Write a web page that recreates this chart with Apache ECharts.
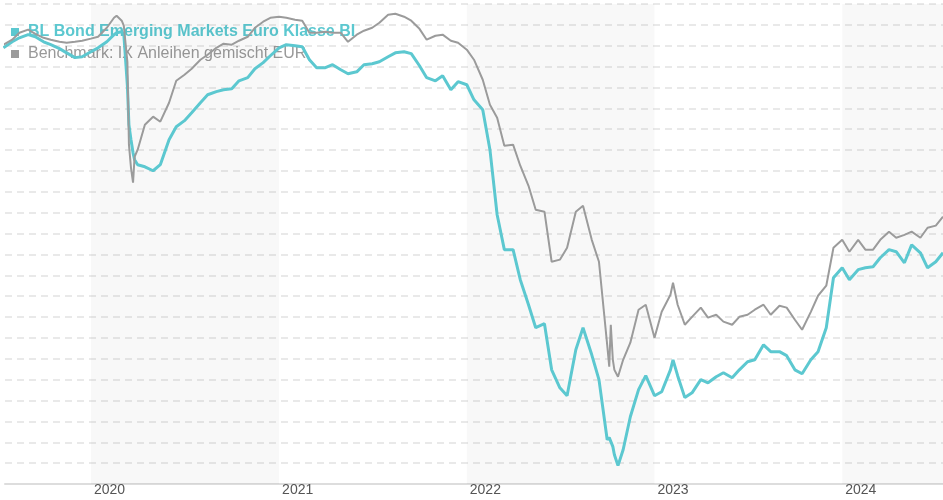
<!DOCTYPE html>
<html>
<head>
<meta charset="utf-8">
<title>BL Bond Emerging Markets Euro</title>
<script src="https://cdn.jsdelivr.net/npm/echarts@6/dist/echarts.min.js"></script>
<style>
html, body { margin: 0; padding: 0; background: #fff; }
#chart { width: 943px; height: 500px; }
</style>
</head>
<body>
<div id="chart"></div>
<script>
// Wertentwicklung in %
var fundName = 'BL Bond Emerging Markets Euro Klasse BI'
var benchName = 'Benchmark: IX Anleihen gemischt EUR'

var dates = [
  '2019-07-15', '2019-08-01', '2019-08-15', '2019-09-01', '2019-09-15', '2019-10-01', '2019-10-15',
  '2019-11-01', '2019-11-15', '2019-12-01', '2019-12-15',
  '2020-01-01', '2020-01-15', '2020-02-01', '2020-02-15', '2020-02-20', '2020-03-01', '2020-03-05',
  '2020-03-12', '2020-03-15', '2020-03-19', '2020-03-23', '2020-03-26', '2020-04-01', '2020-04-15',
  '2020-05-01', '2020-05-15', '2020-06-01', '2020-06-15', '2020-07-01', '2020-07-15', '2020-08-01',
  '2020-08-15', '2020-09-01', '2020-09-15', '2020-10-01', '2020-10-15', '2020-11-01', '2020-11-15',
  '2020-12-01', '2020-12-15',
  '2021-01-01', '2021-01-15', '2021-02-01', '2021-02-15', '2021-03-01', '2021-03-15', '2021-04-01',
  '2021-04-15', '2021-05-01', '2021-05-15', '2021-06-01', '2021-06-15', '2021-07-01', '2021-07-15',
  '2021-08-01', '2021-08-15', '2021-09-01', '2021-09-15', '2021-10-01', '2021-10-15', '2021-11-01',
  '2021-11-15', '2021-12-01', '2021-12-15',
  '2022-01-01', '2022-01-15', '2022-02-01', '2022-02-15', '2022-03-01', '2022-03-15', '2022-04-01',
  '2022-04-15', '2022-05-01', '2022-05-15', '2022-06-01', '2022-06-15', '2022-07-01', '2022-07-15',
  '2022-08-01', '2022-08-15', '2022-09-01', '2022-09-15', '2022-10-01', '2022-10-05', '2022-10-08',
  '2022-10-12', '2022-10-15', '2022-10-22', '2022-11-01', '2022-11-15', '2022-12-01', '2022-12-15',
  '2023-01-01', '2023-01-15', '2023-02-01', '2023-02-06', '2023-02-15', '2023-03-01', '2023-03-15',
  '2023-04-01', '2023-04-15', '2023-05-01', '2023-05-15', '2023-06-01', '2023-06-15', '2023-07-01',
  '2023-07-15', '2023-08-01', '2023-08-15', '2023-09-01', '2023-09-15', '2023-10-01', '2023-10-15',
  '2023-11-01', '2023-11-15', '2023-12-01', '2023-12-15',
  '2024-01-01', '2024-01-15', '2024-02-01', '2024-02-15', '2024-03-01', '2024-03-15', '2024-04-01',
  '2024-04-15', '2024-05-01', '2024-05-15', '2024-06-01', '2024-06-15', '2024-07-01', '2024-07-15'
]

var fund = [
  -0.10, 0.19, 0.38, 0.53, 0.43, 0.19, 0.05,
  -0.14, -0.34, -0.57, -0.53,
  -0.29, -0.10, 0.19, 0.53, 0.62, 0.67, 0.57,
  -1.92, -3.79, -4.50, -5.13, -5.46, -5.70, -5.80,
  -5.99, -5.70, -4.50, -3.88, -3.59, -3.21, -2.73,
  -2.35, -2.20, -2.11, -2.06, -1.68, -1.53, -1.10,
  -0.81, -0.48,
  -0.10, 0.05, 0.00, -0.05, -0.67, -1.05, -1.05,
  -0.91, -1.15, -1.34, -1.25, -0.91, -0.86, -0.77,
  -0.53, -0.34, -0.29, -0.38, -0.96, -1.53, -1.68,
  -1.44, -2.11, -1.72,
  -1.87, -2.59, -3.07, -4.98, -8.10, -9.77, -9.77,
  -11.21, -12.41, -13.51, -13.32, -15.53, -16.39, -16.77,
  -14.57, -13.51, -14.81, -16.00, -18.88, -18.78, -18.78,
  -19.21, -19.60, -20.12, -19.36, -17.78, -16.48, -15.81,
  -16.77, -16.58, -15.53, -15.05, -15.81, -16.86, -16.63,
  -16.00, -16.15, -15.86, -15.67, -15.91, -15.53, -15.14,
  -15.05, -14.33, -14.66, -14.66, -14.85, -15.53, -15.72,
  -15.05, -14.66, -13.51, -11.12,
  -10.64, -11.21, -10.73, -10.64, -10.59, -10.16, -9.77,
  -9.87, -10.40, -9.54, -9.92, -10.64, -10.35, -9.92
]

var bench = [
  0.05, 0.29, 0.62, 0.77, 0.57, 0.38, 0.29,
  0.19, 0.14, 0.19, 0.24,
  0.34, 0.43, 0.86, 1.34, 1.44, 1.20, 0.96,
  -0.77, -4.74, -5.85, -6.56, -5.32, -4.98, -3.79,
  -3.40, -3.64, -2.73, -1.68, -1.39, -1.10, -0.67,
  -0.43, -0.10, 0.10, 0.05, 0.24, 0.43, 0.86,
  1.15, 1.34,
  1.39, 1.34, 1.25, 1.20, 0.62, 0.62, 0.67,
  0.62, 0.62, 0.19, 0.53, 0.72, 0.86, 1.10,
  1.49, 1.53, 1.39, 1.20, 0.81, 0.29, 0.48,
  0.53, 0.24, 0.14,
  -0.19, -0.67, -1.63, -2.83, -3.45, -4.79, -4.74,
  -5.75, -6.71, -7.86, -7.95, -10.35, -10.25, -9.68,
  -7.95, -7.67, -9.30, -10.35, -14.33, -15.38, -13.37,
  -15.05, -15.53, -15.86, -15.05, -14.23, -12.65, -12.41,
  -13.99, -12.75, -11.93, -11.36, -12.41, -13.37, -12.99,
  -12.55, -13.03, -12.89, -13.22, -13.37, -12.99, -12.89,
  -12.65, -12.41, -12.89, -12.46, -12.55, -13.13, -13.61,
  -12.75, -11.98, -11.50, -9.68,
  -9.30, -9.87, -9.30, -9.77, -9.77, -9.30, -8.91,
  -9.20, -9.06, -8.91, -9.20, -8.72, -8.62, -8.19
]

// grau hinterlegte Jahre
var shadedRanges = [
  ['2020-01-01', '2021-01-01'],
  ['2022-01-01', '2023-01-01'],
  ['2024-01-01', '2024-07-15']
]

var fundColor = '#5cc8d0'
var benchColor = '#9b9b9b'

function pairs (values) {
  return dates.map(function (d, i) { return [d, values[i]] })
}

var myChart = echarts.init(document.getElementById('chart'))

var option = {
  animation: false,
  textStyle: { fontFamily: 'Liberation Sans, Arial, sans-serif' },
  legend: {
    orient: 'vertical',
    left: 11,
    top: 24,
    padding: 0,
    z: 1,
    icon: 'rect',
    itemWidth: 8,
    itemHeight: 8,
    itemGap: 6,
    selectedMode: false,
    textStyle: { fontSize: 16, lineHeight: 16, padding: [0, 0, 0, 4] },
    data: [
      { name: fundName, textStyle: { color: fundColor, fontWeight: 'bold' } },
      { name: benchName, textStyle: { color: '#999999' } }
    ]
  },
  grid: { left: 5, right: 0, top: 4, bottom: 16, containLabel: false },
  xAxis: {
    type: 'time',
    min: '2019-07-18',
    max: '2024-07-15',
    minInterval: 365 * 24 * 3600 * 1000,
    maxInterval: 366 * 24 * 3600 * 1000,
    axisLine: { onZero: false, lineStyle: { color: '#dddddd', width: 2 } },
    axisTick: { show: false },
    splitLine: { show: false },
    axisLabel: {
      formatter: '{yyyy}',
      align: 'left',
      margin: -1,
      color: '#555555',
      fontSize: 14,
      padding: [0, 0, 0, 3],
      showMinLabel: false,
      showMaxLabel: false
    }
  },
  yAxis: {
    type: 'value',
    min: -21,
    max: 2,
    interval: 1,
    axisLine: { show: false },
    axisTick: { show: false },
    axisLabel: { show: false },
    splitLine: { lineStyle: { color: '#e2e2e2', width: 1.5, type: [7, 5] } }
  },
  series: [
    {
      name: fundName,
      type: 'line',
      z: 3,
      data: pairs(fund),
      showSymbol: false,
      color: fundColor,
      lineStyle: { color: fundColor, width: 3 },
      markArea: {
        silent: true,
        itemStyle: { color: 'rgba(0,0,0,0.028)' },
        data: shadedRanges.map(function (r) { return [{ xAxis: r[0] }, { xAxis: r[1] }] })
      }
    },
    {
      name: benchName,
      type: 'line',
      z: 3,
      data: pairs(bench),
      showSymbol: false,
      color: benchColor,
      lineStyle: { color: benchColor, width: 2 }
    }
  ]
}

myChart.setOption(option)
</script>
</body>
</html>
